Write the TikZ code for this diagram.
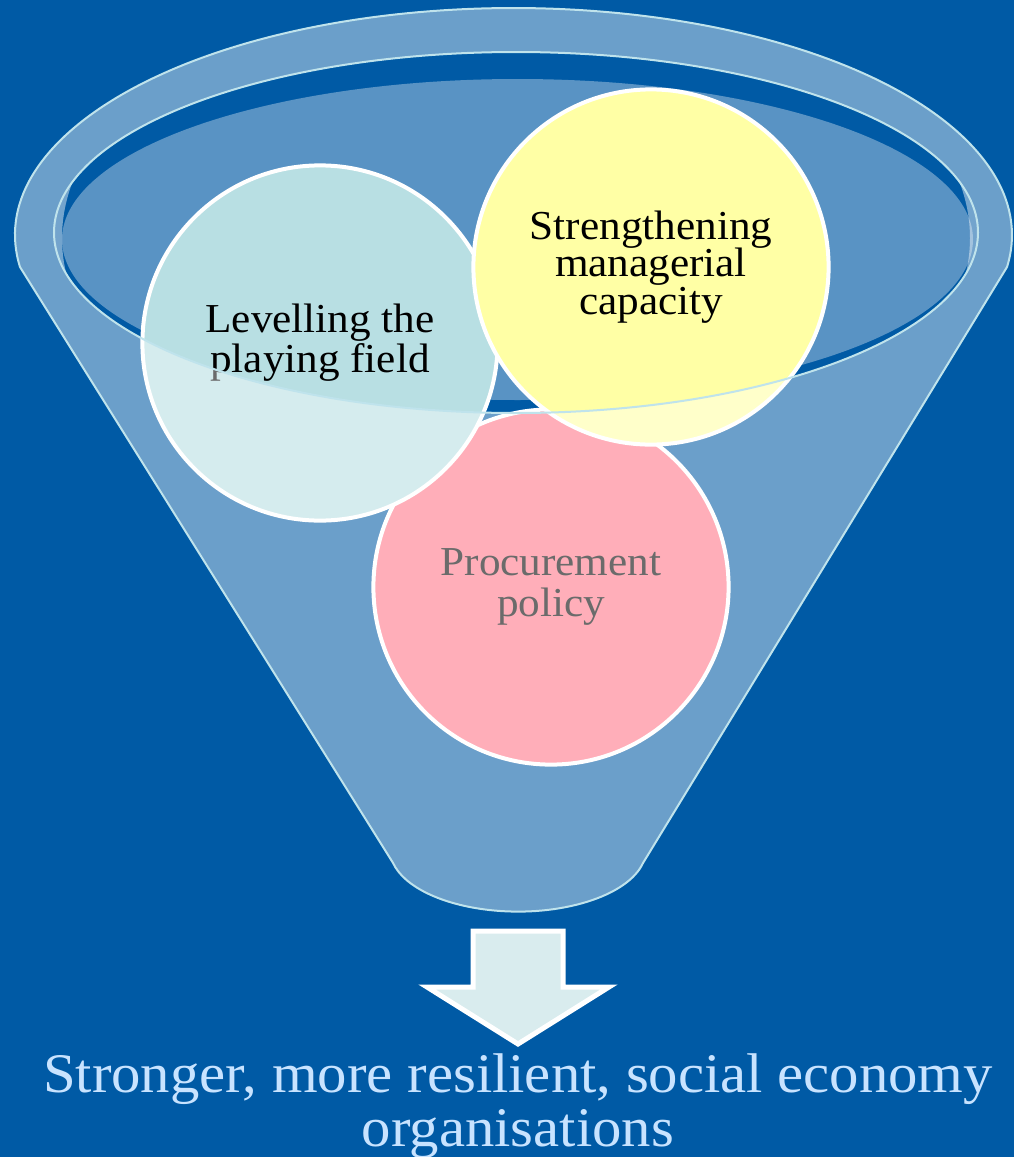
\documentclass[tikz,border=0pt]{standalone}
\usepackage{fontspec}
\setmainfont[FakeStretch=1.05]{Liberation Serif}

\definecolor{slidebg}{HTML}{005AA5}
\definecolor{rimcol}{HTML}{BFE3EC}
\definecolor{levcol}{HTML}{B8DFE3}
\definecolor{mgrcol}{HTML}{FFFFA5}
\definecolor{proccol}{HTML}{FF7588}
\definecolor{arrowcol}{HTML}{D9ECEE}
\definecolor{outcol}{HTML}{C8E3FF}

\begin{document}
\begin{tikzpicture} [x=.01cm, y=-.01cm,
  rimline/.style={draw=rimcol, line width=.02cm},
  ball/.style={circle, draw=white, line width=.04cm, minimum size=3.55cm, inner sep=0pt, align=center, text=black},
  glass/.style={fill=white, fill opacity=.42}]
\fill[slidebg] (0,0) rectangle (1014,1157);
\useasboundingbox (0,0) rectangle (1014,1157);

% opening of the funnel
\begin{scope}
\clip (516,232.5) ellipse [x radius=462, y radius=180.5];
\fill[white, fill opacity=.35] (517.5,239.5) ellipse [x radius=455.5, y radius=160.5];
\fill[white, fill opacity=.45, even odd rule] (516,232.5) ellipse [x radius=462, y radius=180.5]
  (516,238) ellipse [x radius=454, y radius=260];
\end{scope}

% the three circles
\node[ball, fill=proccol, font=\fontsize{11.7pt}{11.4pt}\selectfont] (proc) at (551,587) {Procurement\\policy};
\node[ball, fill=levcol, font=\fontsize{11.7pt}{11.4pt}\selectfont] (lev) at (320,343) {Levelling the\\playing field};
\node[ball, fill=mgrcol, font=\fontsize{11.7pt}{10.7pt}\selectfont] (mgr) at (651,267) {Strengthening\\managerial\\capacity};

% front of the funnel
\fill[glass, even odd rule] (20,267) arc [start angle=171.9, end angle=368.1, x radius=498.5, y radius=227]
  -- (643,863) arc [start angle=12.5, end angle=167.5, x radius=128, y radius=62] -- cycle
  (516,232.5) ellipse [x radius=462, y radius=180.5];
\draw[rimline] (20,267) arc [start angle=171.9, end angle=368.1, x radius=498.5, y radius=227]
  -- (643,863) arc [start angle=12.5, end angle=167.5, x radius=128, y radius=62] -- cycle;
\draw[rimline] (516,232.5) ellipse [x radius=462, y radius=180.5];

% arrow and result
\draw[fill=arrowcol, draw=white, line width=.05cm, miter limit=4]
  (473,931) -- (563,931) -- (563,987) -- (609,987) -- (518,1044) -- (427,987) -- (473,987) -- cycle;
\node[text=outcol, align=center, font=\fontsize{15.9pt}{15.4pt}\selectfont] (result) at (518,1106)
  {Stronger, more resilient, social economy\\organisations};

\end{tikzpicture}
\end{document}
